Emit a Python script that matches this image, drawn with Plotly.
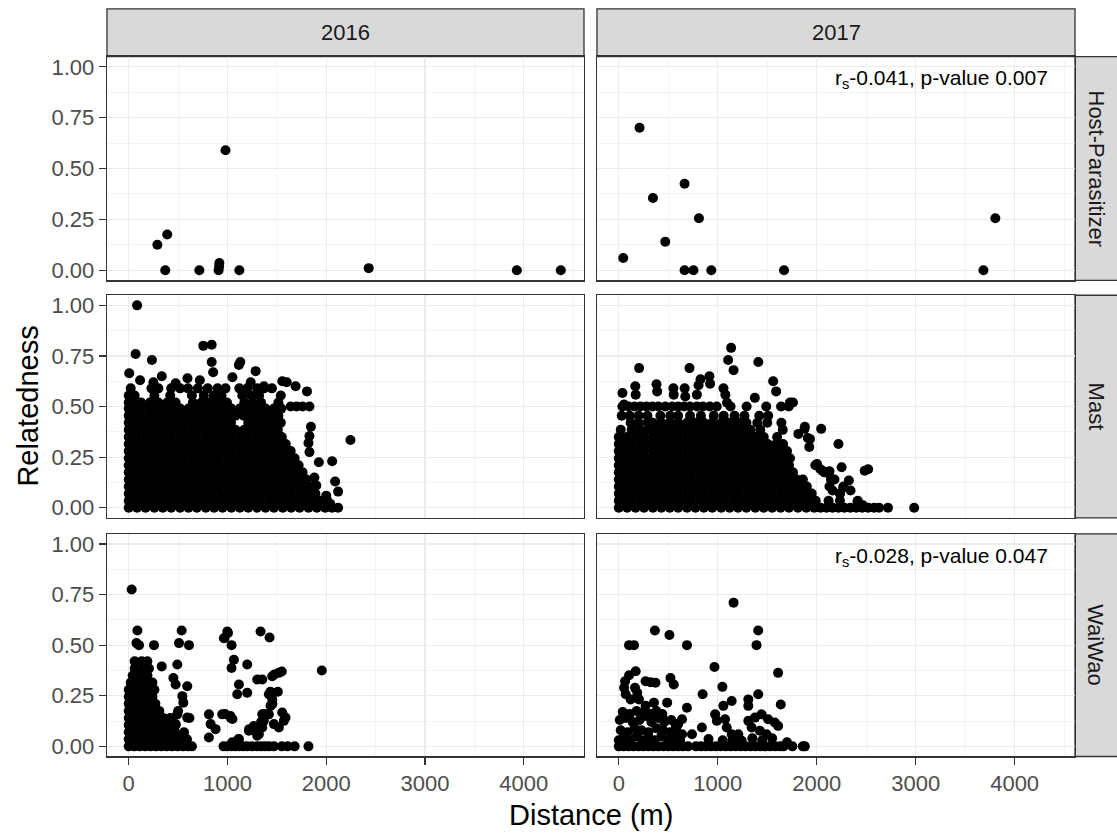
import plotly.graph_objects as go

W, H = 1117, 839

# ------------------------------------------------------------------ data
years = ["2016", "2017"]
groups = ["Host-Parasitizer", "Mast", "WaiWao"]
x_ticks = [0, 1000, 2000, 3000, 4000]
x_minor = [500, 1500, 2500, 3500, 4500]
y_ticks = [0.0, 0.25, 0.5, 0.75, 1.0]
y_tick_labels = ["0.00", "0.25", "0.50", "0.75", "1.00"]
y_minor = [0.125, 0.375, 0.625, 0.875]

# Host-Parasitizer
hp16_d = [290, 390, 370, 715, 910, 915, 918, 980, 1120, 2430, 3930, 4375]
hp16_r = [0.125, 0.175, 0.0, 0.0, 0.0, 0.018, 0.035, 0.59, 0.0, 0.01, 0.0, 0.0]
hp17_d = [45, 210, 345, 470, 665, 665, 755, 810, 935, 1670, 3685, 3805]
hp17_r = [0.06, 0.70, 0.355, 0.14, 0.425, 0.0, 0.0, 0.255, 0.0, 0.0, 0.0, 0.255]

# Mast 2016: dense cloud read as rows (relatedness level -> distances)
mast16_levels = [0.0, 0.035, 0.07, 0.105, 0.14, 0.175, 0.21, 0.245, 0.28,
                 0.315, 0.35, 0.385, 0.42, 0.455, 0.49, 0.52, 0.555, 0.59]
mast16_rows = [
    [0, 85, 170, 260, 345, 430, 520, 605, 690, 780, 865, 950, 1040, 1125, 1210, 1300, 1385, 1470, 1560, 1645, 1730, 1820, 1905, 1990, 2060, 2120],
    [0, 40, 130, 215, 300, 390, 475, 560, 645, 735, 825, 910, 995, 1080, 1170, 1255, 1340, 1430, 1515, 1600, 1690, 1775, 1860, 1945, 2010],
    [0, 90, 175, 255, 345, 430, 515, 605, 690, 780, 865, 955, 1040, 1125, 1215, 1300, 1385, 1475, 1560, 1645, 1735, 1815, 1890],
    [0, 45, 130, 210, 300, 385, 475, 560, 650, 735, 820, 905, 995, 1085, 1170, 1255, 1340, 1430, 1515, 1605, 1690, 1770, 1850],
    [0, 85, 170, 255, 345, 430, 520, 605, 690, 775, 865, 950, 1035, 1125, 1210, 1300, 1385, 1470, 1555, 1645, 1730, 1800],
    [0, 40, 125, 215, 300, 385, 475, 560, 645, 735, 820, 910, 995, 1080, 1165, 1255, 1340, 1425, 1515, 1600, 1685, 1760],
    [0, 85, 175, 260, 345, 430, 520, 605, 690, 780, 865, 950, 1040, 1125, 1210, 1295, 1385, 1470, 1555, 1640, 1720],
    [0, 45, 130, 215, 300, 390, 475, 560, 650, 735, 820, 905, 995, 1080, 1170, 1255, 1340, 1425, 1515, 1600, 1680],
    [0, 85, 170, 260, 345, 430, 515, 605, 690, 775, 865, 950, 1035, 1125, 1210, 1295, 1385, 1470, 1555, 1640],
    [0, 40, 130, 215, 300, 385, 475, 560, 645, 735, 820, 905, 995, 1080, 1165, 1255, 1340, 1425, 1510, 1590],
    [0, 85, 175, 260, 345, 430, 520, 605, 690, 780, 865, 950, 1035, 1125, 1210, 1300, 1385, 1470, 1550],
    [0, 45, 130, 215, 300, 390, 475, 560, 650, 735, 820, 910, 995, 1080, 1170, 1255, 1340, 1425, 1510],
    [0, 85, 170, 260, 345, 430, 515, 605, 690, 775, 865, 950, 1035, 1210, 1295, 1385, 1470, 1540],
    [0, 40, 125, 215, 300, 385, 475, 560, 645, 735, 820, 910, 995, 1080, 1165, 1255, 1340, 1425, 1515],
    [0, 85, 175, 260, 345, 430, 520, 605, 690, 780, 865, 950, 1040, 1125, 1210, 1300, 1385, 1470, 1545],
    [0, 40, 125, 215, 300, 390, 475, 650, 735, 820, 910, 995, 1170, 1255, 1340, 1515],
    [0, 60, 260, 420, 640, 760, 860, 940, 1150, 1240, 1320, 1540],
    [20, 230, 300, 430, 520, 600, 700, 800, 900, 980, 1120, 1200, 1300, 1370, 1450],
]
mast16_extra = [
    (5, 0.665), (115, 0.63), (250, 0.62), (335, 0.65), (475, 0.615), (595, 0.64),
    (720, 0.63), (855, 0.67), (1050, 0.645), (1235, 0.62), (1285, 0.675), (1369, 0.60),
    (1555, 0.625), (1600, 0.62), (1690, 0.60), (1805, 0.575), (70, 0.76), (235, 0.73),
    (755, 0.80), (840, 0.805), (840, 0.72), (1130, 0.72), (1115, 0.705), (85, 1.0),
    (1640, 0.5), (1700, 0.5), (1760, 0.5), (1830, 0.5), (1845, 0.40), (1830, 0.355),
    (1820, 0.32), (1830, 0.275), (1925, 0.225), (2060, 0.23), (2090, 0.13), (2120, 0.08),
    (2245, 0.335), (1975, 0.03), (2040, 0.02), (1880, 0.15), (1900, 0.11), (2000, 0.06),
]

# Mast 2017
mast17_levels = [0.0, 0.035, 0.07, 0.105, 0.14, 0.175, 0.21, 0.245, 0.28,
                 0.315, 0.35, 0.385, 0.42, 0.455, 0.50]
mast17_rows = [
    [0, 85, 170, 255, 345, 430, 515, 600, 690, 775, 860, 945, 1035, 1120, 1205, 1290, 1380, 1465, 1550, 1635, 1720, 1810, 1895, 1975, 2040, 2100, 2160, 2220, 2280, 2340, 2400, 2460, 2520, 2580, 2630, 2720, 2985],
    [0, 40, 125, 215, 300, 385, 470, 560, 645, 730, 820, 905, 990, 1075, 1165, 1250, 1335, 1420, 1510, 1595, 1680, 1765, 1850, 1935, 1990, 2120, 2235, 2415],
    [0, 85, 170, 260, 345, 430, 515, 600, 690, 775, 860, 950, 1035, 1120, 1205, 1295, 1380, 1465, 1550, 1640, 1725, 1810, 1890, 1950, 2235],
    [0, 45, 130, 215, 300, 385, 475, 560, 645, 730, 820, 905, 990, 1080, 1165, 1250, 1335, 1425, 1510, 1595, 1680, 1770, 1850, 1900, 2129, 2270],
    [0, 85, 170, 260, 345, 430, 515, 605, 690, 775, 860, 950, 1035, 1120, 1210, 1295, 1380, 1465, 1555, 1640, 1725, 1800, 1860, 2145, 2164],
    [0, 40, 130, 215, 300, 385, 470, 560, 645, 730, 820, 905, 990, 1075, 1165, 1250, 1335, 1420, 1510, 1595, 1680, 1760],
    [0, 85, 170, 255, 345, 430, 515, 600, 690, 775, 860, 945, 1035, 1120, 1205, 1290, 1380, 1465, 1550, 1635, 1720],
    [0, 45, 130, 215, 300, 385, 470, 560, 645, 730, 815, 905, 990, 1075, 1160, 1250, 1335, 1420, 1505, 1595, 1680, 1730],
    [0, 85, 170, 255, 345, 430, 515, 600, 690, 775, 860, 945, 1035, 1120, 1205, 1290, 1380, 1465, 1550, 1635, 1700],
    [0, 40, 125, 215, 300, 385, 470, 560, 645, 730, 815, 905, 990, 1075, 1160, 1250, 1335, 1420, 1505, 1590, 1660],
    [0, 85, 170, 255, 345, 430, 515, 600, 690, 775, 860, 945, 1035, 1120, 1205, 1290, 1380, 1465, 1600],
    [20, 130, 215, 300, 385, 470, 560, 645, 730, 815, 905, 990, 1075, 1160, 1250, 1330, 1430, 1657],
    [120, 200, 290, 345, 430, 515, 600, 690, 775, 860, 945, 1035, 1120, 1205, 1290, 1400, 1500, 1643],
    [30, 110, 200, 290, 420, 520, 600, 720, 830, 960, 1060, 1170, 1270, 1420, 1510],
    [37, 100, 160, 220, 280, 340, 400, 470, 540, 600, 660, 720, 790, 850, 920, 990, 1130, 1292, 1490, 1640, 1717],
]
mast17_extra = [
    (37, 0.567), (53, 0.51), (171, 0.559), (388, 0.575), (555, 0.559), (672, 0.55),
    (806, 0.605), (923, 0.613), (789, 0.559), (1077, 0.559), (1094, 0.519), (1375, 0.543),
    (1560, 0.625), (1590, 0.575), (205, 0.69), (715, 0.69), (1105, 0.73), (1135, 0.79),
    (1160, 0.68), (1410, 0.72), (1730, 0.52), (1760, 0.52), (1880, 0.40), (1815, 0.365),
    (1910, 0.345), (1925, 0.30), (2045, 0.39), (2220, 0.315), (1995, 0.21), (2078, 0.175),
    (2145, 0.142), (2252, 0.20), (2003, 0.216), (2057, 0.183), (2092, 0.175), (2129, 0.18),
    (2180, 0.14), (2160, 0.085), (2235, 0.07), (2270, 0.10), (2325, 0.135), (2342, 0.085),
    (2485, 0.183), (2520, 0.19), (2413, 0.028), (2467, 0.012), (1877, 0.39), (1932, 0.34),
    (1986, 0.21), (2038, 0.19), (167, 0.60), (381, 0.61), (552, 0.59), (666, 0.59),
    (826, 0.635), (916, 0.65), (1058, 0.59),
]

# WaiWao 2016
ww16_levels = [0.0, 0.035, 0.07, 0.105, 0.14, 0.175, 0.21, 0.245, 0.28, 0.315, 0.35, 0.385, 0.42]
ww16_rows = [
    [0, 55, 110, 165, 220, 275, 330, 385, 440, 495, 550, 600, 640],
    [0, 30, 100, 170, 240, 310, 380, 450, 520, 590],
    [0, 70, 140, 210, 280, 350, 420, 470, 560],
    [0, 35, 105, 175, 245, 315, 385, 475],
    [0, 70, 140, 210, 280, 350, 420],
    [0, 35, 105, 175, 245, 310],
    [0, 70, 140, 210, 270],
    [0, 35, 105, 175, 240],
    [0, 70, 140, 210, 260],
    [20, 35, 105, 175, 240],
    [40, 120, 190],
    [60, 140, 205],
    [60, 130, 189],
]
ww16_zero_d = [960, 1000, 1040, 1080, 1120, 1160, 1200, 1250, 1300, 1340, 1380,
               1420, 1470, 1550, 1610, 1680, 1820]
ww16_extra = [
    (30, 0.775), (88, 0.572), (78, 0.51), (104, 0.50), (256, 0.50), (536, 0.572),
    (509, 0.51), (610, 0.50), (334, 0.395), (492, 0.404), (452, 0.338), (475, 0.306),
    (593, 0.297), (543, 0.248), (553, 0.216), (492, 0.158), (593, 0.142), (475, 0.11),
    (500, 0.175), (615, 0.14), (812, 0.158), (829, 0.11), (812, 0.044), (880, 0.085),
    (947, 0.158), (1031, 0.142), (998, 0.567), (964, 0.534), (1041, 0.50), (1005, 0.56),
    (970, 0.535), (1065, 0.428), (1041, 0.387), (1200, 0.404), (1116, 0.306), (1099, 0.257),
    (1200, 0.265), (1217, 0.077), (1267, 0.101), (1335, 0.567), (1426, 0.538), (1301, 0.33),
    (1352, 0.33), (1453, 0.346), (1520, 0.363), (1550, 0.37), (1419, 0.257), (1453, 0.232),
    (1436, 0.20), (1419, 0.158), (1352, 0.158), (1368, 0.126), (1352, 0.093), (1318, 0.06),
    (1554, 0.167), (1588, 0.142), (1571, 0.126), (1470, 0.11), (1520, 0.093), (1116, 0.036),
    (1048, 0.02), (1301, 0.052), (975, 0.16), (1030, 0.15), (1050, 0.135), (1110, 0.035),
    (1220, 0.085), (1280, 0.075), (1955, 0.375), (1475, 0.355), (1435, 0.27), (1510, 0.27),
    (1455, 0.21), (1375, 0.16), (1340, 0.12),
]

# WaiWao 2017
ww17_zero_d = [0, 50, 100, 150, 200, 250, 300, 350, 400, 450, 500, 550, 600, 650, 700,
               780, 830, 880, 930, 980, 1030, 1080, 1130, 1180, 1230, 1280, 1330, 1380,
               1430, 1480, 1530, 1580, 1630, 1665, 1754, 1860, 1880]
ww17_extra = [
    (0, 0.03), (50, 0.045), (120, 0.03), (180, 0.05), (240, 0.03), (300, 0.045),
    (360, 0.03), (430, 0.05), (500, 0.03), (560, 0.045), (620, 0.03), (20, 0.08),
    (90, 0.07), (160, 0.09), (230, 0.08), (300, 0.07), (380, 0.09), (450, 0.08),
    (520, 0.07), (580, 0.09), (640, 0.06), (10, 0.13), (70, 0.14), (140, 0.12),
    (210, 0.13), (270, 0.15), (330, 0.12), (400, 0.14), (460, 0.12), (530, 0.13),
    (600, 0.11), (40, 0.17), (110, 0.16), (180, 0.175), (250, 0.17), (320, 0.16),
    (380, 0.175), (440, 0.16), (271, 0.20), (355, 0.216), (489, 0.216), (689, 0.191),
    (438, 0.15), (639, 0.134), (572, 0.11), (171, 0.371), (104, 0.351), (64, 0.322),
    (54, 0.289), (70, 0.257), (120, 0.232), (204, 0.232), (271, 0.322), (321, 0.317),
    (371, 0.314), (164, 0.289), (187, 0.265), (522, 0.338), (556, 0.306), (104, 0.50),
    (154, 0.50), (365, 0.572), (512, 0.55), (689, 0.50), (1160, 0.71), (1409, 0.572),
    (1392, 0.50), (967, 0.392), (1610, 0.363), (1047, 0.294), (847, 0.257), (1409, 0.257),
    (1141, 0.224), (1309, 0.232), (1309, 0.20), (1637, 0.207), (1057, 0.20), (740, 0.06),
    (840, 0.093), (907, 0.036), (974, 0.158), (991, 0.126), (1074, 0.134), (1091, 0.093),
    (1141, 0.06), (1208, 0.06), (1242, 0.028), (1309, 0.126), (1376, 0.142), (1443, 0.158),
    (1509, 0.134), (1576, 0.118), (1610, 0.101), (1342, 0.093), (1426, 0.077), (1493, 0.06),
    (1050, 0.03), (1150, 0.035), (1350, 0.04), (1450, 0.03), (1550, 0.04), (1700, 0.02),
]

annot_hp17 = "r<sub>s</sub>-0.041, p-value 0.007"
annot_ww17 = "r<sub>s</sub>-0.028, p-value 0.047"


# ------------------------------------------------------------------ helpers
def from_rows(levels, rows, extra=(), zeros=()):
    d, r = [], []
    for lev, xs in zip(levels, rows):
        for x in xs:
            d.append(x)
            r.append(lev)
    for x in zeros:
        d.append(x)
        r.append(0.0)
    for x, y in extra:
        d.append(x)
        r.append(y)
    return d, r


m16_d, m16_r = from_rows(mast16_levels, mast16_rows, mast16_extra)
m17_d, m17_r = from_rows(mast17_levels, mast17_rows, mast17_extra)
w16_d, w16_r = from_rows(ww16_levels, ww16_rows, ww16_extra, ww16_zero_d)
w17_d, w17_r = from_rows([], [], ww17_extra, ww17_zero_d)

panel_data = [(hp16_d, hp16_r), (hp17_d, hp17_r),
              (m16_d, m16_r), (m17_d, m17_r),
              (w16_d, w16_r), (w17_d, w17_r)]

# ------------------------------------------------------------------ geometry (pixels)
col_px = [(107, 584), (597, 1075)]
row_px = [(55, 280), (295, 519), (535, 759)]
top_strip_px = (7, 55)
right_strip_px = (1075, 1125)


def px_x(p):
    return p / W


def px_y(p):
    return 1 - p / H


FONT = "Liberation Sans, Arial, sans-serif"
GRID = "#EBEBEB"
BORDER = "#333333"

fig = go.Figure()
layout = dict(
    width=W, height=H,
    margin=dict(l=0, r=0, t=0, b=0),
    paper_bgcolor="white", plot_bgcolor="white",
    showlegend=False,
    font=dict(family=FONT),
)

for i, (d, r) in enumerate(panel_data, start=1):
    row, col = (i - 1) // 2, (i - 1) % 2
    sfx = "" if i == 1 else str(i)
    fig.add_trace(go.Scatter(
        x=d, y=r, mode="markers",
        marker=dict(color="black", size=10, line=dict(width=0)),
        xaxis="x" + sfx, yaxis="y" + sfx, hoverinfo="skip",
    ))
    bottom = row == 2
    left = col == 0
    layout["xaxis" + sfx] = dict(
        domain=[px_x(col_px[col][0]), px_x(col_px[col][1])],
        anchor="y" + sfx, range=[-220, 4610],
        tickmode="array", tickvals=x_ticks, ticktext=[str(v) for v in x_ticks],
        showticklabels=bottom, ticks="outside" if bottom else "",
        ticklen=7, tickwidth=1.2, tickcolor=BORDER,
        tickfont=dict(size=22, color="#4D4D4D", family=FONT),
        showgrid=True, gridcolor=GRID, gridwidth=1.2,
        minor=dict(tickvals=x_minor, showgrid=True, gridcolor=GRID, gridwidth=0.6, ticks=""),
        showline=True, mirror=True, linecolor=BORDER, linewidth=1.3,
        zeroline=False, fixedrange=True,
    )
    layout["yaxis" + sfx] = dict(
        domain=[px_y(row_px[row][1]), px_y(row_px[row][0])],
        anchor="x" + sfx, range=[-0.05, 1.05],
        tickmode="array", tickvals=y_ticks, ticktext=y_tick_labels,
        showticklabels=left, ticks="outside" if left else "",
        ticklen=7, tickwidth=1.2, tickcolor=BORDER,
        tickfont=dict(size=22, color="#4D4D4D", family=FONT),
        showgrid=True, gridcolor=GRID, gridwidth=1.2,
        minor=dict(tickvals=y_minor, showgrid=True, gridcolor=GRID, gridwidth=0.6, ticks=""),
        showline=True, mirror=True, linecolor=BORDER, linewidth=1.3,
        zeroline=False, fixedrange=True,
    )

shapes, annotations = [], []
# top strips
for c, yr in enumerate(years):
    x0, x1 = col_px[c]
    shapes.append(dict(type="rect", xref="paper", yref="paper",
                       x0=px_x(x0), x1=px_x(x1),
                       y0=px_y(top_strip_px[1]), y1=px_y(top_strip_px[0]),
                       fillcolor="#D9D9D9", line=dict(color=BORDER, width=1.3), layer="below"))
    annotations.append(dict(text=yr, xref="paper", yref="paper",
                            x=px_x((x0 + x1) / 2), y=px_y(sum(top_strip_px) / 2),
                            showarrow=False, xanchor="center", yanchor="middle",
                            font=dict(size=22, color="#1A1A1A", family=FONT)))
# right strips
for rr, g in enumerate(groups):
    y0, y1 = row_px[rr]
    shapes.append(dict(type="rect", xref="paper", yref="paper",
                       x0=px_x(right_strip_px[0]), x1=px_x(right_strip_px[1]),
                       y0=px_y(y1), y1=px_y(y0),
                       fillcolor="#D9D9D9", line=dict(color=BORDER, width=1.3), layer="below"))
    annotations.append(dict(text=g, xref="paper", yref="paper",
                            x=px_x(1096), y=px_y((y0 + y1) / 2), textangle=90,
                            showarrow=False, xanchor="center", yanchor="middle",
                            font=dict(size=22, color="#1A1A1A", family=FONT)))

# correlation labels
annotations.append(dict(text=annot_hp17, xref="paper", yref="paper",
                        x=px_x(1050), y=px_y(77), xanchor="right", yanchor="middle",
                        showarrow=False, font=dict(size=21, color="black", family=FONT)))
annotations.append(dict(text=annot_ww17, xref="paper", yref="paper",
                        x=px_x(1050), y=px_y(558), xanchor="right", yanchor="middle",
                        showarrow=False, font=dict(size=21, color="black", family=FONT)))

# axis titles
annotations.append(dict(text="Relatedness", xref="paper", yref="paper",
                        x=px_x(28), y=px_y((row_px[0][0] + row_px[2][1]) / 2), textangle=-90,
                        showarrow=False, xanchor="center", yanchor="middle",
                        font=dict(size=29, color="black", family=FONT)))
annotations.append(dict(text="Distance (m)", xref="paper", yref="paper",
                        x=px_x((col_px[0][0] + col_px[1][1]) / 2), y=px_y(818),
                        showarrow=False, xanchor="center", yanchor="middle",
                        font=dict(size=29, color="black", family=FONT)))

layout["shapes"] = shapes
layout["annotations"] = annotations
fig.update_layout(**layout)

fig.write_html("out.html",
               config={"displayModeBar": False, "staticPlot": True},
               post_script="document.body.style.margin='0';document.body.style.overflow='hidden';")
